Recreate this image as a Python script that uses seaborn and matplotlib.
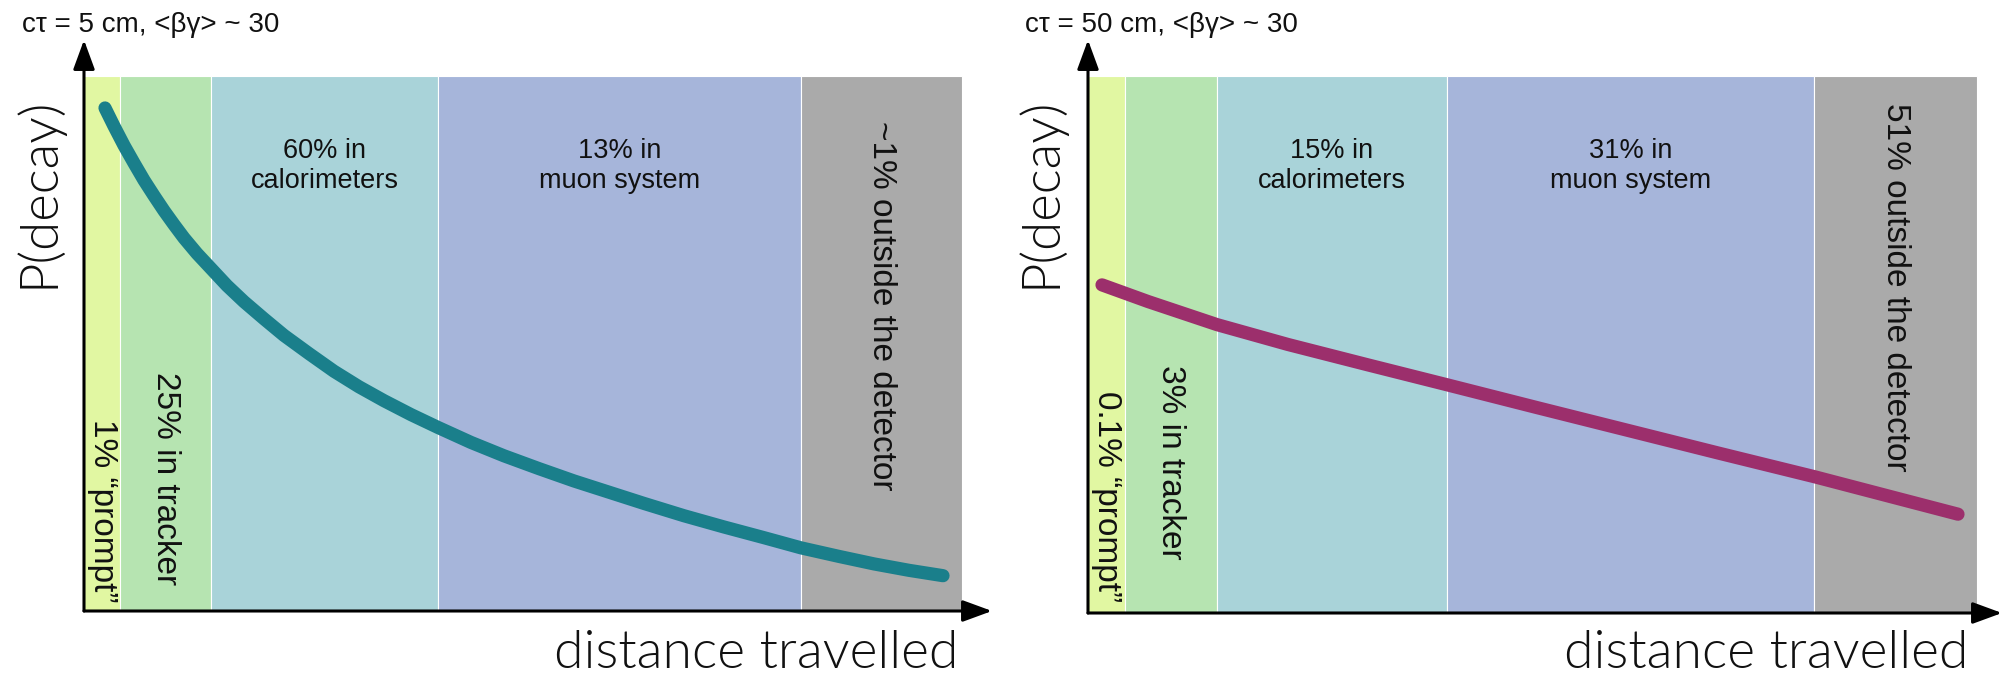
import matplotlib
matplotlib.use("Agg")
import matplotlib.pyplot as plt
from matplotlib import font_manager
import seaborn as sns
import pandas as pd

# --- detector regions (distance units along the flight path) ---
band_colors = ["#e1f7a2", "#b6e4b1", "#a9d3d9", "#a6b5da", "#aaaaaa"]

left_edges = [0, 36, 127, 354, 717, 878]
right_edges = [0, 37, 129, 359, 726, 889]

left_labels = ["1% \u201cprompt\u201d", "25% in tracker", "60% in\ncalorimeters",
               "13% in\nmuon system", "~1% outside the detector"]
right_labels = ["0.1% \u201cprompt\u201d", "3% in tracker", "15% in\ncalorimeters",
                "31% in\nmuon system", "51% outside the detector"]

# --- decay probability along the path ---
left_dist = [21, 30, 40, 50, 60, 70, 80, 90, 100, 113, 127, 143, 160, 180, 200,
             225, 250, 275, 300, 327, 354, 387, 420, 455, 490, 525, 560, 600,
             640, 680, 717, 755, 790, 825, 859]
left_prob = [0.940, 0.906, 0.870, 0.837, 0.805, 0.776, 0.748, 0.722, 0.697,
             0.668, 0.640, 0.608, 0.578, 0.546, 0.515, 0.481, 0.448, 0.419,
             0.393, 0.367, 0.343, 0.315, 0.290, 0.266, 0.243, 0.222, 0.201,
             0.178, 0.157, 0.137, 0.118, 0.102, 0.088, 0.076, 0.066]

right_dist = [14, 60, 129, 200, 280, 359, 450, 540, 630, 726, 800, 870]
right_prob = [0.611, 0.580, 0.537, 0.500, 0.462, 0.425, 0.382, 0.340, 0.298,
              0.254, 0.218, 0.184]

left_title = "c\u03c4 = 5 cm, <\u03b2\u03b3> ~ 30"
right_title = "c\u03c4 = 50 cm, <\u03b2\u03b3> ~ 30"
y_label = "P(decay)"
x_label = "distance travelled"

sns.set_theme(style="white")
plt.rcParams["font.family"] = ["Liberation Sans", "DejaVu Sans"]


def light_font():
    """Pick a thin-stroked sans face for the hand-drawn style axis labels."""
    wanted = ["Lato", "Open Sans", "Roboto", "Inter", "Noto Sans", "DejaVu Sans"]
    best = None
    for name in wanted:
        for f in font_manager.fontManager.ttflist:
            w = f.weight if isinstance(f.weight, int) else 400
            if f.name == name and f.style == "normal" and w <= 300:
                if best is None or w > best[1]:
                    best = (f.fname, w)
        if best:
            return font_manager.FontProperties(fname=best[0])
    return font_manager.FontProperties(family="DejaVu Sans")


hand = light_font()

W, H = 2004, 678
fig = plt.figure(figsize=(W / 100, H / 100), dpi=100)
fig.patch.set_facecolor("white")


def px_axes(x0, x1, ytop, ybot):
    return fig.add_axes([x0 / W, (H - ybot) / H, (x1 - x0) / W, (ybot - ytop) / H])


def draw_panel(ax, edges, labels, dist, prob, line_color, xmax, vpos):
    lefts = edges[:-1]
    widths = [b - a for a, b in zip(edges[:-1], edges[1:])]
    ax.bar(lefts, [1.0] * len(lefts), width=widths, align="edge",
           color=band_colors, edgecolor="white", linewidth=0.8, zorder=1)

    df = pd.DataFrame({"distance": dist, "p": prob})
    sns.lineplot(data=df, x="distance", y="p", ax=ax, color=line_color,
                 linewidth=9.5, solid_capstyle="round", solid_joinstyle="round",
                 zorder=3, sort=False)

    centers = [(a + b) / 2 for a, b in zip(edges[:-1], edges[1:])]
    fs_h, fs_v = 19.5, 24
    # narrow regions: vertical text ending near the bottom
    for i in (0, 1):
        ax.text(centers[i], vpos[i], labels[i], rotation=270, ha="center",
                va="bottom", fontsize=fs_v, color="#111111", zorder=4)
    for i in (2, 3):
        ax.text(centers[i], 0.832, labels[i], ha="center", va="center",
                fontsize=fs_h, color="#111111", linespacing=1.2, zorder=4)
    ax.text(centers[4], vpos[2], labels[4], rotation=270, ha="center", va="top",
            fontsize=fs_v, color="#111111", zorder=4)

    ax.set_xlim(0, xmax)
    ax.set_ylim(0, 1.067)
    for s in ax.spines.values():
        s.set_visible(False)
    ax.set_xticks([])
    ax.set_yticks([])
    ax.set_xlabel("")
    ax.set_ylabel("")
    ax.patch.set_alpha(0)

    head = "-|>,head_length=0.9,head_width=0.33"
    for tip in [(1, 0), (0, 1)]:
        ax.annotate("", xy=tip, xytext=(0, 0), xycoords="axes fraction",
                    textcoords="axes fraction",
                    arrowprops=dict(arrowstyle=head, lw=2.2, color="black",
                                    mutation_scale=20, shrinkA=0, shrinkB=0),
                    annotation_clip=False, zorder=5)


ax_l = px_axes(84, 992, 40, 611)
draw_panel(ax_l, left_edges, left_labels, left_dist, left_prob, "#1a7f8b", 908,
           vpos=(0.015, 0.048, 0.915))

ax_r = px_axes(1088, 2002, 40, 613)
draw_panel(ax_r, right_edges, right_labels, right_dist, right_prob, "#9c2f6c", 914,
           vpos=(0.02, 0.10, 0.95))

# titles
fig.text(22 / W, 1 - 25 / H, left_title, ha="left", va="center", fontsize=20,
         color="#111111")
fig.text(1025 / W, 1 - 25 / H, right_title, ha="left", va="center", fontsize=20,
         color="#111111")

# axis labels
for x in (38, 1040):
    fig.text(x / W, 1 - 192 / H, y_label, rotation=90, ha="center", va="center",
             fontproperties=hand, fontsize=38, color="#111111")
for x in (958, 1968):
    fig.text(x / W, 1 - 653 / H, x_label, ha="right", va="center",
             fontproperties=hand, fontsize=38.5, color="#111111")

fig.savefig("out.png", dpi=100, facecolor="white")
